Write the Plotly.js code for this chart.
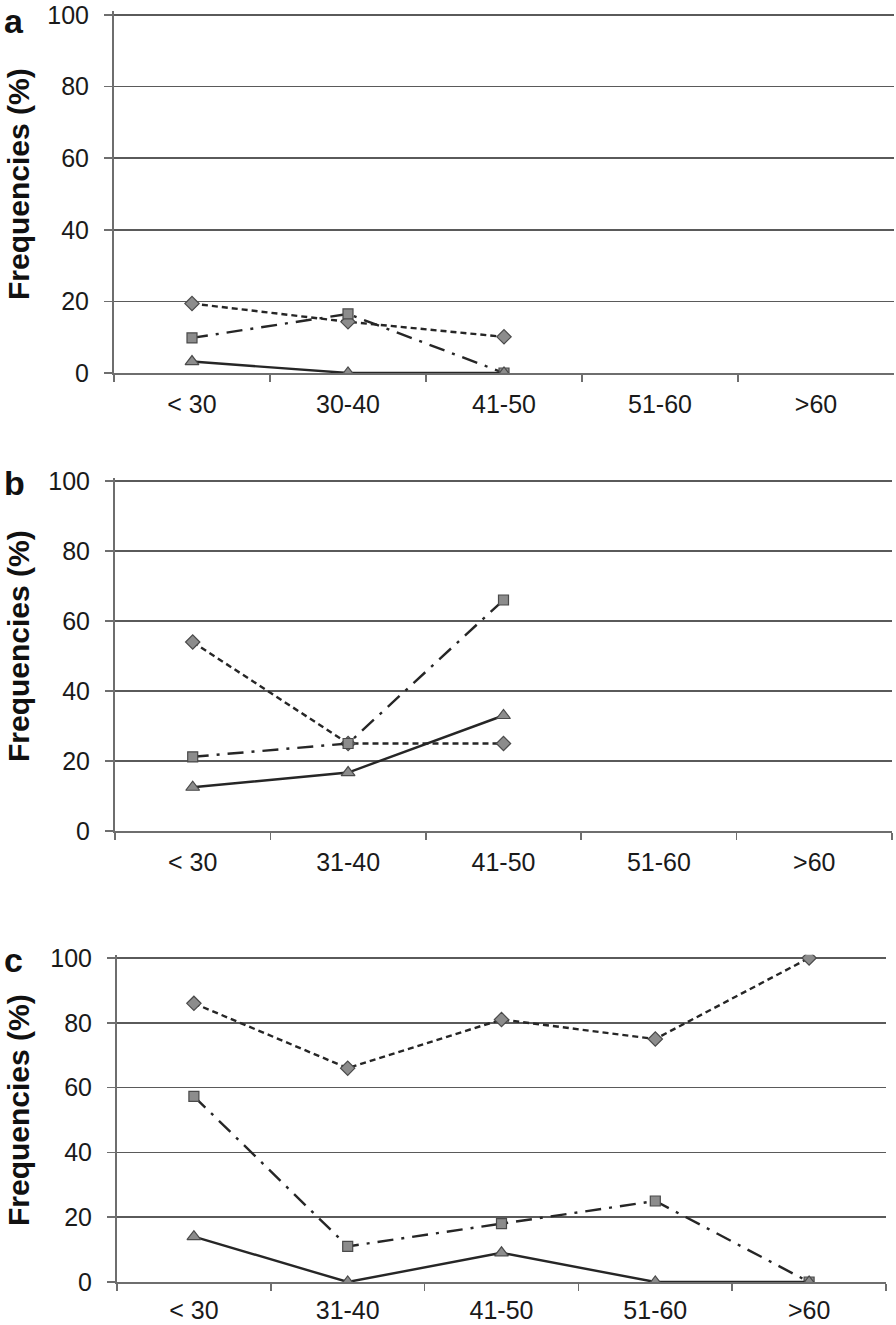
<!DOCTYPE html>
<html>
<head>
<meta charset="utf-8">
<script src="https://cdn.plot.ly/plotly-3.0.1.min.js"></script>
<style>html,body{margin:0;padding:0;background:#fff;}#chart{width:896px;height:1325px;}</style>
</head>
<body>
<div id="chart"></div>
<script>
// ---- data ----
const catsA = ["< 30", "30-40", "41-50", "51-60", ">60"];
const catsBC = ["< 30", "31-40", "41-50", "51-60", ">60"];

const aDiamond = [19.4, 14.3, 10.1, null, null];
const aSquare = [9.8, 16.5, 0, null, null];
const aTriangle = [3.2, 0, 0, null, null];

const bDiamond = [54, 25, 25, null, null];
const bSquare = [21.2, 25, 66, null, null];
const bTriangle = [12.5, 16.7, 33, null, null];

const cDiamond = [86, 66, 81, 75, 100];
const cSquare = [57.3, 11, 18, 25, 0];
const cTriangle = [14, 0, 9, 0, 0];

const yTicks = [0, 20, 40, 60, 80, 100];
const yTitle = "Frequencies (%)";
const panelLabels = ["a", "b", "c"];

// ---- styles ----
const FONT = "Liberation Sans, Arial, Helvetica, sans-serif";
const W = 896, H = 1325;
const markerFill = "#8c8c8c", markerEdge = "#4a4a4a", lineCol = "#262626";

function series(x, y, sym, size, dash, xa, ya) {
  return {
    x: x, y: y, xaxis: xa, yaxis: ya, type: "scatter", mode: "lines+markers",
    connectgaps: false, showlegend: false, hoverinfo: "skip",
    line: {color: lineCol, width: 2.4, dash: dash},
    marker: {symbol: sym, size: size, color: markerFill, line: {color: markerEdge, width: 1.2}}
  };
}
const dDash = "6px,4px";
const sDash = "16px,8px,3px,8px";

const traces = [
  series(catsA, aDiamond, "diamond", 11, dDash, "x", "y"),
  series(catsA, aSquare, "square", 10, sDash, "x", "y"),
  series(catsA, aTriangle, "triangle-up", 12, "solid", "x", "y"),
  series(catsBC, bDiamond, "diamond", 11, dDash, "x2", "y2"),
  series(catsBC, bSquare, "square", 10, sDash, "x2", "y2"),
  series(catsBC, bTriangle, "triangle-up", 12, "solid", "x2", "y2"),
  series(catsBC, cDiamond, "diamond", 11, dDash, "x3", "y3"),
  series(catsBC, cSquare, "square", 10, sDash, "x3", "y3"),
  series(catsBC, cTriangle, "triangle-up", 12, "solid", "x3", "y3")
];

// panel pixel geometry: [left, right, top(100), bottom(0)]
const panels = [[114, 894, 15, 373], [115, 892, 481, 831], [117, 886, 958, 1282]];
const YMAX = 101;

function xax(cats, p, anchor, standoff) {
  return {
    domain: [p[0] / W, p[1] / W], anchor: anchor, type: "category",
    categoryorder: "array", categoryarray: cats, range: [-0.5, 4.5],
    showgrid: false, zeroline: false, showline: true, linecolor: "#6e6e6e", linewidth: 2,
    ticks: "outside", tickson: "boundaries", ticklen: 7, tickcolor: "#6e6e6e", tickwidth: 1.5,
    tickfont: {family: FONT, size: 25, color: "#1a1a1a"}, ticklabelstandoff: standoff,
    ticklabeloverflow: "allow", fixedrange: true
  };
}
function yax(p, anchor) {
  const s = (p[3] - p[2]) / 100;
  const top = p[2] - (YMAX - 100) * s;
  return {
    domain: [1 - p[3] / H, 1 - top / H], anchor: anchor, range: [0, YMAX],
    tickvals: yTicks, ticktext: yTicks.map(String),
    showgrid: true, gridcolor: "#5a5a5a", gridwidth: 1.6, zeroline: false,
    showline: true, linecolor: "#6e6e6e", linewidth: 2,
    ticks: "outside", ticklen: 8, tickcolor: "#6e6e6e", tickwidth: 1.5,
    tickfont: {family: FONT, size: 25, color: "#1a1a1a"}, ticklabelstandoff: 10,
    ticklabeloverflow: "allow", fixedrange: true
  };
}

const annotations = [];
panels.forEach((p, i) => {
  annotations.push({
    text: "<b>" + yTitle + "</b>", textangle: -90, xref: "paper", yref: "paper",
    x: 18 / W, y: 1 - ((p[2] + p[3]) / 2 - 10) / H, xanchor: "center", yanchor: "middle",
    showarrow: false, font: {family: FONT, size: 30, color: "#111"}
  });
  const ly = i === 0 ? 1 : 1 - (p[2] + 2) / H;
  annotations.push({
    text: "<b>" + panelLabels[i] + "</b>", xref: "paper", yref: "paper",
    x: 2 / W, y: ly, xanchor: "left", yanchor: i === 0 ? "top" : "middle",
    showarrow: false, font: {family: FONT, size: 34, color: "#111"}
  });
});

const layout = {
  width: W, height: H, margin: {l: 0, r: 0, t: 0, b: 0},
  paper_bgcolor: "#fff", plot_bgcolor: "rgba(0,0,0,0)",
  xaxis: xax(catsA, panels[0], "y", 8), yaxis: yax(panels[0], "x"),
  xaxis2: xax(catsBC, panels[1], "y2", 8), yaxis2: yax(panels[1], "x2"),
  xaxis3: xax(catsBC, panels[2], "y3", 5), yaxis3: yax(panels[2], "x3"),
  annotations: annotations
};

Plotly.newPlot("chart", traces, layout, {staticPlot: true, displayModeBar: false});
</script>
</body>
</html>
